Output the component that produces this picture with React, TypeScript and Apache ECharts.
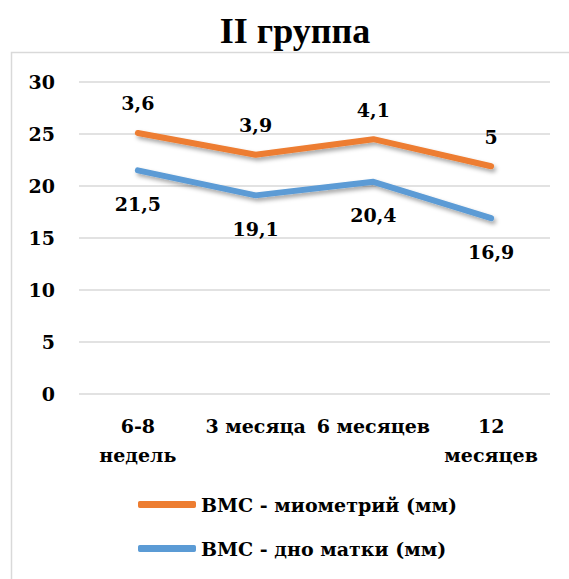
import React, { useEffect, useRef } from "react";
import * as echarts from "echarts";

const title = "II группа";
const categories = ["6-8\nнедель", "3 месяца", "6 месяцев", "12\nмесяцев"];
const seriesNames = ["ВМС - миометрий (мм)", "ВМС - дно матки (мм)"];
const fundusValues = [21.5, 19.1, 20.4, 16.9];
const myometriumValues = [3.6, 3.9, 4.1, 5];
const yTicks = { min: 0, max: 30, interval: 5 };

const FONT = '"DejaVu Serif", serif';
const fmt = (v: number) => String(v).replace(".", ",");

export default function App() {
  const ref = useRef<HTMLDivElement>(null);
  useEffect(() => {
    if (!ref.current) return;
    const chart = echarts.init(ref.current, null, { renderer: "svg" });
    const shadow = {
      shadowColor: "rgba(0,0,0,0.35)",
      shadowBlur: 4,
      shadowOffsetX: 2,
      shadowOffsetY: 3,
    };
    chart.setOption({
      animation: false,
      backgroundColor: "#ffffff",
      graphic: [
        {
          type: "rect",
          shape: { x: 11.5, y: 52.5, width: 700, height: 700 },
          style: { fill: "none", stroke: "#D9D9D9", lineWidth: 1.5 },
          silent: true,
        },
        {
          type: "text",
          x: 295,
          y: 31,
          style: {
            text: title,
            textAlign: "center",
            textVerticalAlign: "middle",
            font: 'bold 36px "Liberation Serif", serif',
            fill: "#000000",
          },
        },
      ],
      grid: { left: 79, right: 19, top: 82, bottom: 185, containLabel: false },
      legend: {
        orient: "vertical",
        left: 133,
        top: 490,
        itemGap: 25,
        itemWidth: 58,
        itemHeight: 7,
        icon: "roundRect",
        data: seriesNames,
        textStyle: { fontFamily: FONT, fontWeight: "bold", fontSize: 19, color: "#000" },
      },
      xAxis: {
        type: "category",
        data: categories,
        boundaryGap: true,
        axisLine: { show: false },
        axisTick: { show: false },
        axisLabel: {
          interval: 0,
          margin: 17,
          fontFamily: FONT,
          fontWeight: "bold",
          fontSize: 19,
          lineHeight: 29,
          color: "#000",
        },
      },
      yAxis: {
        type: "value",
        min: yTicks.min,
        max: yTicks.max,
        interval: yTicks.interval,
        axisLine: { show: false },
        axisTick: { show: false },
        axisLabel: {
          margin: 24,
          fontFamily: FONT,
          fontWeight: "bold",
          fontSize: 19,
          color: "#000",
        },
        splitLine: { lineStyle: { color: "#D9D9D9", width: 1.5 } },
      },
      series: [
        {
          name: seriesNames[1],
          type: "line",
          stack: "total",
          data: fundusValues,
          color: "#5B9BD5",
          symbol: "circle",
          symbolSize: 0.1,
          lineStyle: { width: 6, cap: "round", join: "round", color: "#5B9BD5", ...shadow },
          label: {
            show: true,
            position: "bottom",
            distance: 24,
            formatter: (p: any) => fmt(p.value),
            fontFamily: FONT,
            fontWeight: "bold",
            fontSize: 19,
            color: "#000",
          },
        },
        {
          name: seriesNames[0],
          type: "line",
          stack: "total",
          data: myometriumValues,
          color: "#ED7D31",
          symbol: "circle",
          symbolSize: 0.1,
          lineStyle: { width: 6, cap: "round", join: "round", color: "#ED7D31", ...shadow },
          label: {
            show: true,
            position: "top",
            distance: 20,
            formatter: (p: any) => fmt(p.value),
            fontFamily: FONT,
            fontWeight: "bold",
            fontSize: 19,
            color: "#000",
          },
        },
      ],
    });
    return () => chart.dispose();
  }, []);
  return (
    <div
      ref={ref}
      style={{ position: "fixed", left: 0, top: 0, width: 569, height: 579 }}
    />
  );
}
